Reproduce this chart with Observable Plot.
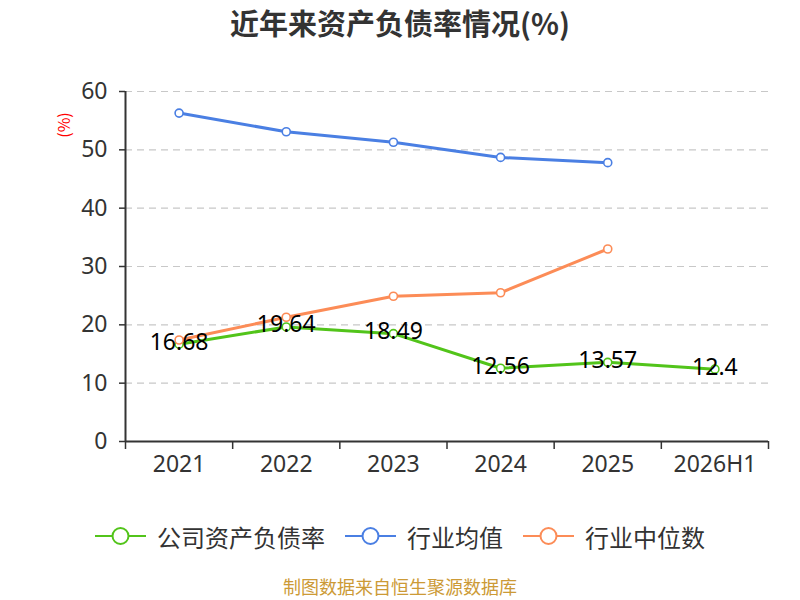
<!DOCTYPE html>
<html><head><meta charset="utf-8">
<script src="https://cdn.jsdelivr.net/npm/d3@7"></script>
<script src="https://cdn.jsdelivr.net/npm/@observablehq/plot@0.6"></script>
<style>
body{margin:0;background:#fff;font-family:"Noto Sans CJK SC","Noto Sans",sans-serif;}
#wrap{position:relative;width:800px;height:600px;}
#title{position:absolute;top:0;left:0;width:800px;text-align:center;font-size:29px;font-weight:bold;color:#333;line-height:44px;}
#chart{position:absolute;top:0;left:0;}
#unit{position:absolute;left:50px;top:114px;width:26px;height:22px;line-height:22px;text-align:center;font-size:16px;color:red;transform:rotate(-90deg);}
#legend{position:absolute;top:519px;left:0;width:800px;height:34px;display:flex;justify-content:center;align-items:center;}
.item{display:flex;align-items:center;margin:0 10px;font-size:24px;color:#333;}
.item svg{margin-right:11px;}
#source{position:absolute;top:575px;left:0;width:800px;text-align:center;font-size:18px;line-height:22px;color:#cc9a36;}
</style></head>
<body>
<div id="wrap">
<div id="chart"></div>
<div id="title">近年来资产负债率情况(%)</div>
<div id="unit">(%)</div>
<div id="legend"></div>
<div id="source">制图数据来自恒生聚源数据库</div>
</div>
<script>
const years = ["2021","2022","2023","2024","2025","2026H1"];
const company = [16.68,19.64,18.49,12.56,13.57,12.4];
const industryAvg = [56.3,53.1,51.3,48.7,47.8];
const industryMedian = [17.4,21.3,24.9,25.5,33.0];
const yTicks = [0,10,20,30,40,50,60];
const seriesNames = ["公司资产负债率","行业均值","行业中位数"];
const colors = ["#52c41a","#4a7fe3","#fc8c57"];

const rows = (arr) => arr.map((v,i)=>({i, v}));
const comp = rows(company), avg = rows(industryAvg), med = rows(industryMedian);
const bounds = d3.range(years.length+1).map(k=>k-0.5);

const font = '"Noto Sans","Noto Sans CJK SC",sans-serif';
const chart = Plot.plot({
  width: 800, height: 500,
  marginTop: 91, marginBottom: 59, marginLeft: 125, marginRight: 32,
  style: {fontFamily: font, background: "#fff", overflow: "visible"},
  x: {type: "linear", domain: [-0.5, years.length-0.5]},
  y: {domain: [0,60]},
  marks: [
    Plot.gridY(yTicks.filter(t=>t>0), {stroke:"#c8c8c8", strokeOpacity:1, strokeWidth:1.2, strokeDasharray:"7,5"}),
    Plot.axisY({ticks: yTicks, tickSize: 6, tickPadding: 12, fontSize: 23, color: "#333", stroke:"#333", strokeWidth:1.5, label: null}),
    Plot.axisX({ticks: bounds, tickSize: 8, tickFormat: () => "", stroke:"#333", strokeWidth:1.5, label: null}),
    Plot.axisX({ticks: d3.range(years.length), tickSize: 0, tickPadding: 14, tickFormat: i => years[i], fontSize: 23, color:"#333", label: null}),
    Plot.ruleX([-0.5], {y1: 0, y2: 60, stroke:"#333", strokeWidth: 2}),
    Plot.ruleY([0], {stroke:"#333", strokeWidth: 2}),
    Plot.line(avg, {x:"i", y:"v", stroke: colors[1], strokeWidth: 3}),
    Plot.dot(avg, {x:"i", y:"v", r:4, fill:"#fff", stroke: colors[1], strokeWidth: 1.6}),
    Plot.line(comp, {x:"i", y:"v", stroke: colors[0], strokeWidth: 3}),
    Plot.dot(comp, {x:"i", y:"v", r:4, fill:"#fff", stroke: colors[0], strokeWidth: 1.6}),
    Plot.line(med, {x:"i", y:"v", stroke: colors[2], strokeWidth: 3}),
    Plot.dot(med, {x:"i", y:"v", r:4, fill:"#fff", stroke: colors[2], strokeWidth: 1.6}),
    Plot.text(comp, {x:"i", y:"v", text: d => String(d.v), fontSize: 23, fill:"#000", dy: -2})
  ]
});
document.getElementById("chart").appendChild(chart);

const legend = document.getElementById("legend");
seriesNames.forEach((name, k) => {
  const item = document.createElement("div");
  item.className = "item";
  item.innerHTML = `<svg width="51" height="20"><line x1="0" y1="10" x2="51" y2="10" stroke="${colors[k]}" stroke-width="2"/><circle cx="25.5" cy="10" r="8" fill="#fff" stroke="${colors[k]}" stroke-width="2"/></svg><span>${name}</span>`;
  legend.appendChild(item);
});
</script>
</body></html>
